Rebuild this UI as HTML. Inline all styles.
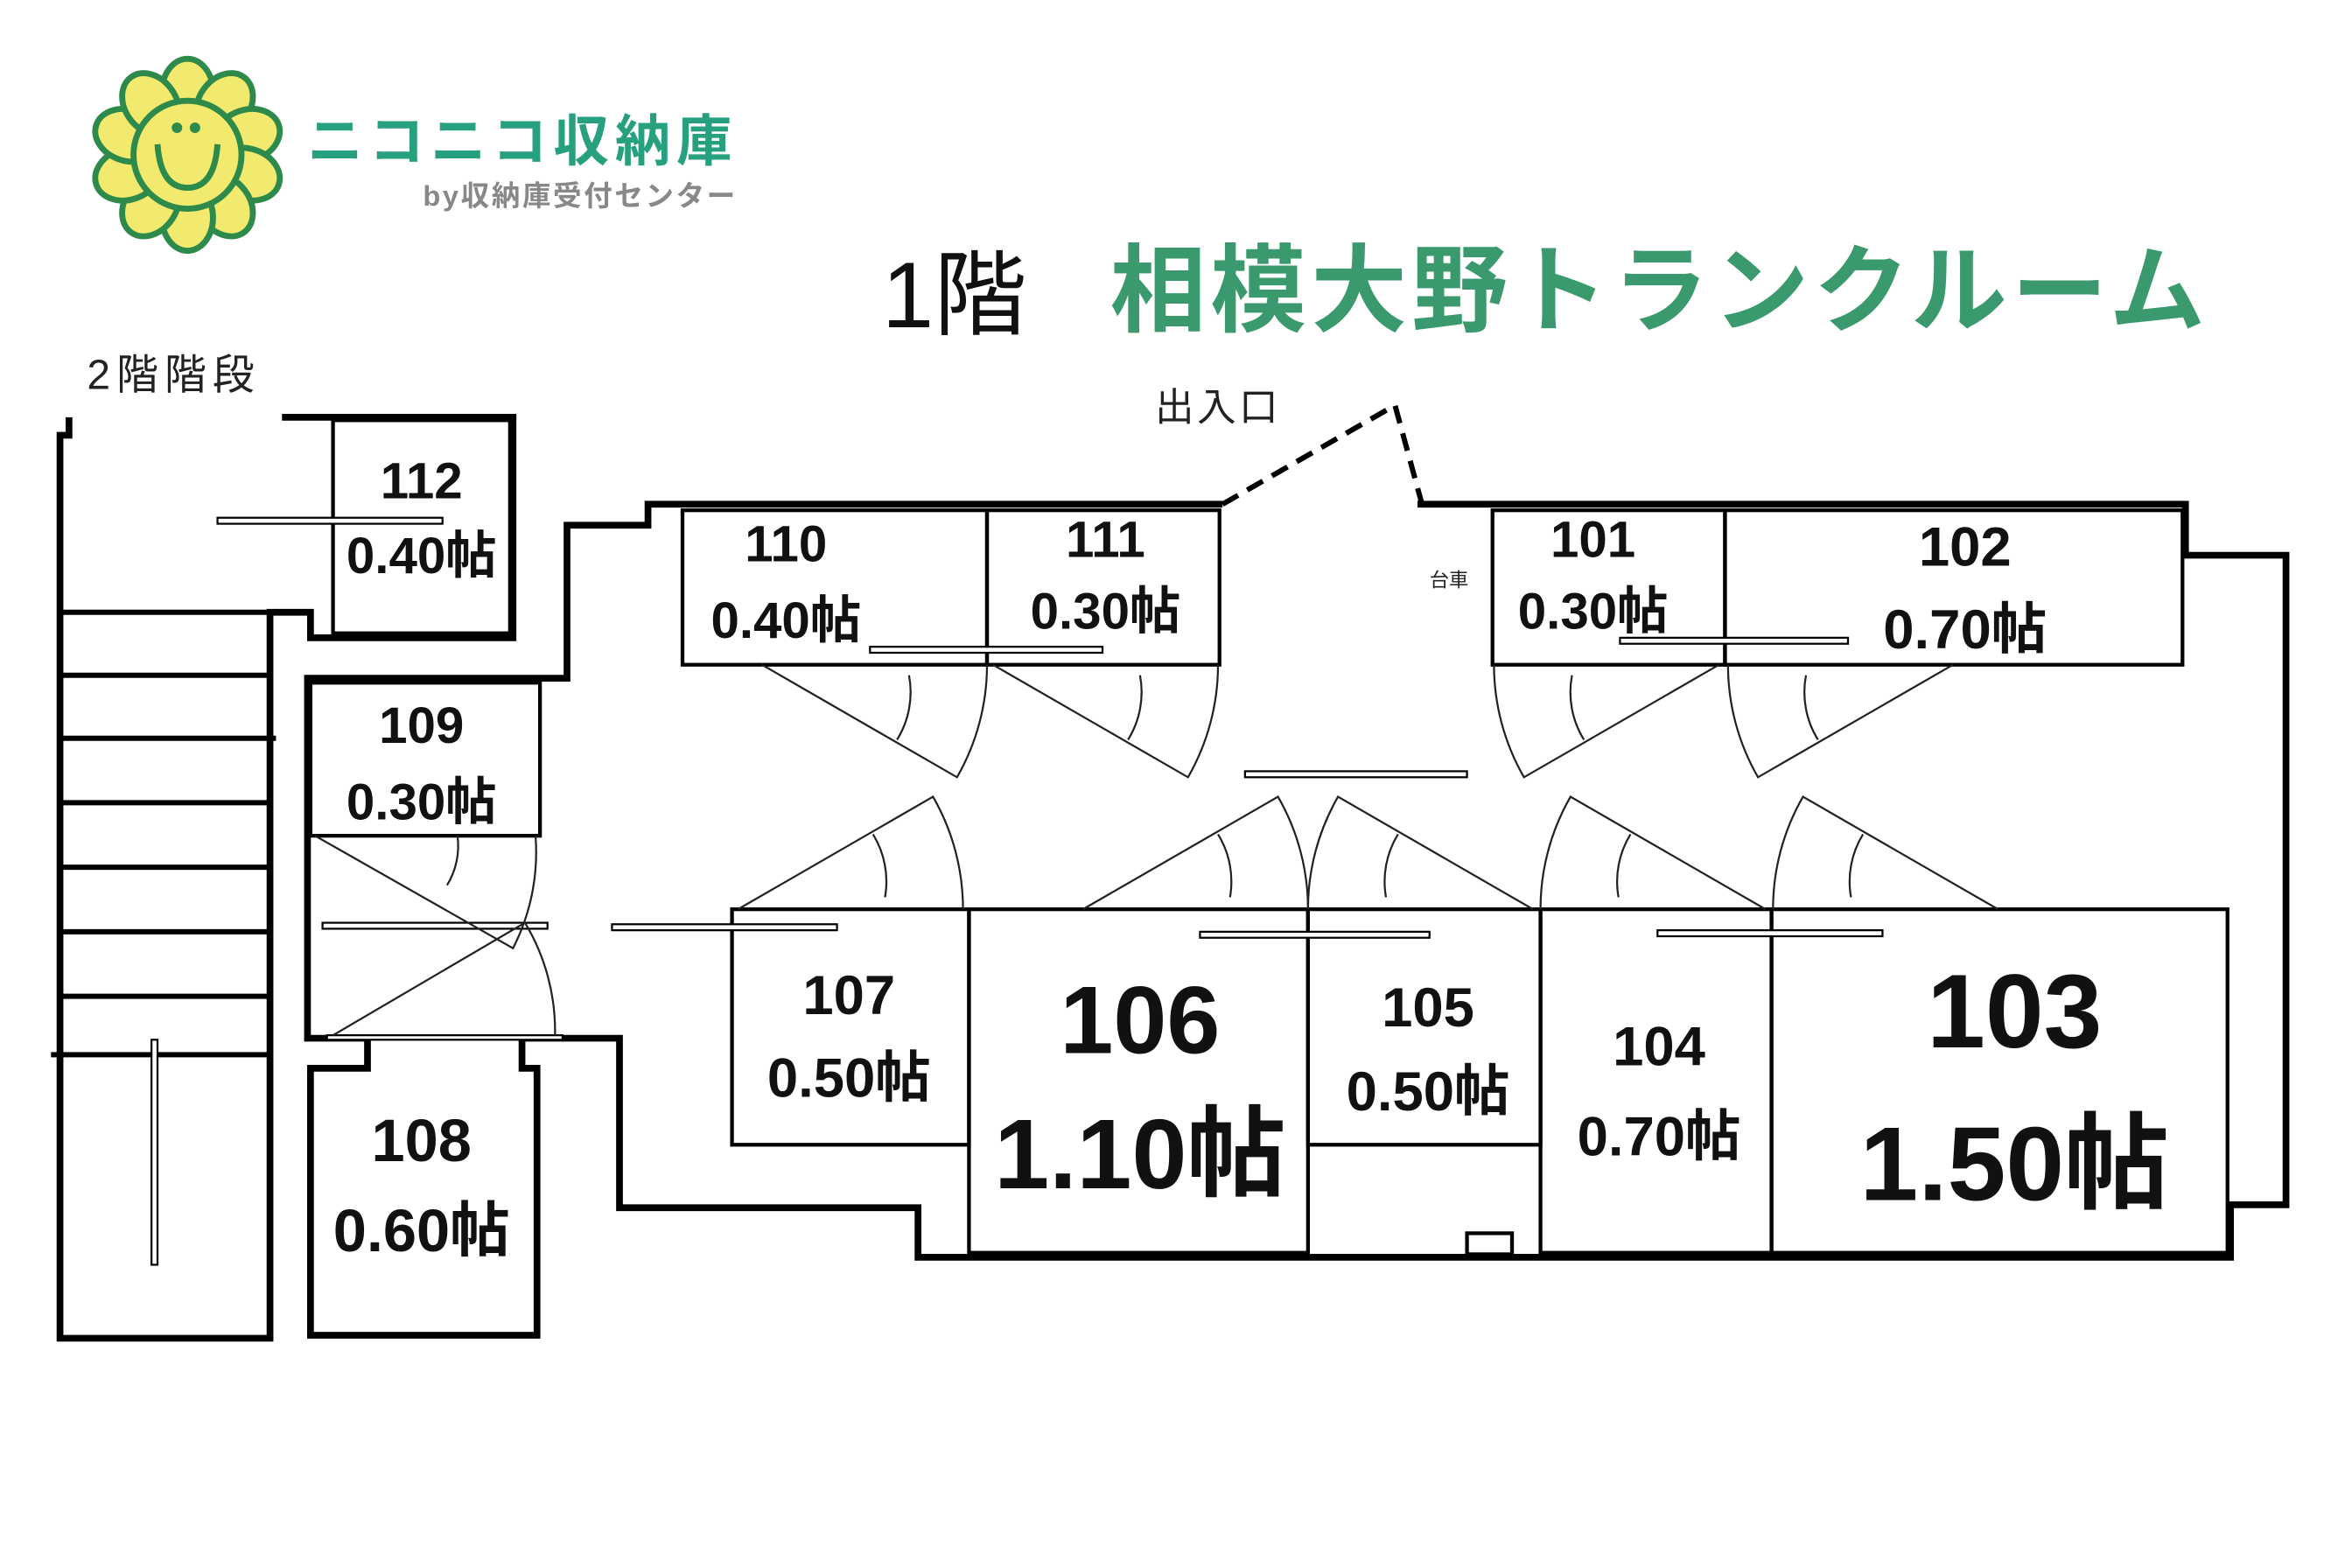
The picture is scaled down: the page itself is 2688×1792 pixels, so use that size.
<!DOCTYPE html>
<html><head><meta charset="utf-8"><style>
html,body{margin:0;padding:0;background:#fff;}
svg{display:block;}
text{font-family:"Liberation Sans","Noto Sans CJK JP",sans-serif;}
.b{font-weight:bold;fill:#111;}
</style></head><body>
<svg width="2688" height="1792" viewBox="0 0 1568 1045" xmlns="http://www.w3.org/2000/svg">
<rect width="1568" height="1045" fill="#fff"/>
<!-- logo -->
<g stroke="#2e8a4a" stroke-width="4" fill="#f1ea6e">
<g transform="translate(125,103)">
<ellipse cx="0" cy="-42" rx="17" ry="22" transform="rotate(0)"/>
<ellipse cx="0" cy="-42" rx="17" ry="22" transform="rotate(36)"/>
<ellipse cx="0" cy="-42" rx="17" ry="22" transform="rotate(72)"/>
<ellipse cx="0" cy="-42" rx="17" ry="22" transform="rotate(108)"/>
<ellipse cx="0" cy="-42" rx="17" ry="22" transform="rotate(144)"/>
<ellipse cx="0" cy="-42" rx="17" ry="22" transform="rotate(180)"/>
<ellipse cx="0" cy="-42" rx="17" ry="22" transform="rotate(216)"/>
<ellipse cx="0" cy="-42" rx="17" ry="22" transform="rotate(252)"/>
<ellipse cx="0" cy="-42" rx="17" ry="22" transform="rotate(288)"/>
<ellipse cx="0" cy="-42" rx="17" ry="22" transform="rotate(324)"/>
<circle r="36"/>
<circle cx="-7" cy="-18" r="3.5" fill="#2e8a4a" stroke="none"/>
<circle cx="5" cy="-18" r="3.5" fill="#2e8a4a" stroke="none"/>
<path d="M-20,-7 Q-18,22 0,22 Q18,22 20,-7" fill="none"/>
</g></g>
<text x="205" y="107" font-size="37" font-weight="bold" fill="#27a07f" letter-spacing="4">ニコニコ収納庫</text>
<text x="282" y="137" font-size="19" font-weight="bold" fill="#888" letter-spacing="1.5">by収納庫受付センター</text>
<!-- title -->
<text x="588" y="218" font-size="62" fill="#111">1階</text>
<text x="740" y="216" font-size="64" font-weight="bold" fill="#3a9a6e" letter-spacing="3">相模大野トランクルーム</text>
<text x="58" y="259" font-size="28" fill="#222" letter-spacing="4">2階階段</text>
<text x="770" y="280" font-size="26" fill="#222" letter-spacing="2">出入口</text>
<text x="953" y="391" font-size="13" fill="#222">台車</text>
<!-- thick walls -->
<g fill="none" stroke="#000" stroke-width="4.5" stroke-linejoin="miter">
<polyline points="46,278 46,290 40,290 40,892 180,892 180,408 207,408 207,425 342,425 342,278 188,278"/>
<polyline points="815,336 432,336 432,350 378,350 378,452 205,452 205,692 245,692 245,712 207,712 207,890 358,890 358,712 348,712 348,692 413,692 413,805 612,805 612,838 1487,838 1487,803 1524,803 1524,370 1457,370 1457,336 945,336"/>
</g>
<g stroke="#000" stroke-width="3.5">
<line x1="40" y1="408" x2="178" y2="408"/><line x1="40" y1="450" x2="178" y2="450"/>
<line x1="40" y1="492" x2="184" y2="492"/><line x1="40" y1="535" x2="178" y2="535"/>
<line x1="40" y1="578" x2="178" y2="578"/><line x1="40" y1="621" x2="178" y2="621"/>
<line x1="40" y1="664" x2="178" y2="664"/><line x1="34" y1="703" x2="178" y2="703"/>
</g>
<path d="M815,336 L930,270 L948,336" fill="none" stroke="#000" stroke-width="3.5" stroke-dasharray="12,7"/>
<!-- rooms thin double -->
<g fill="none" stroke="#000" stroke-width="2.5">
<rect x="222" y="280" width="118" height="142"/>
<rect x="455" y="340" width="203" height="103"/>
<rect x="658" y="340" width="155" height="103"/>
<rect x="995" y="340" width="155" height="103"/>
<rect x="1150" y="340" width="305" height="103"/>
<rect x="207" y="455" width="153" height="102"/>
<rect x="488" y="606" width="158" height="157"/>
<rect x="646" y="606" width="226" height="229"/>
<rect x="872" y="606" width="155" height="157"/>
<rect x="1027" y="606" width="154" height="229"/>
<rect x="1181" y="606" width="304" height="229"/>
<rect x="978" y="822" width="30" height="14"/>
</g>
<!-- sliding tracks -->
<g fill="#fff" stroke="#000" stroke-width="1.3">
<rect x="145" y="345" width="150" height="4"/>
<rect x="580" y="431" width="155" height="4"/>
<rect x="1080" y="425" width="152" height="4"/>
<rect x="830" y="514" width="148" height="4"/>
<rect x="215" y="615" width="150" height="4"/>
<rect x="408" y="616" width="150" height="4"/>
<rect x="800" y="621" width="153" height="4"/>
<rect x="1105" y="620" width="150" height="4"/>
<rect x="101" y="693" width="4" height="150"/>
<rect x="218" y="690" width="157" height="3"/>
</g>
<!-- door swings -->
<g fill="none" stroke="#222" stroke-width="1.3">
<path d="M508,443 L638,518 A150,150 0 0 0 658,443"/><path d="M598,493 A60,60 0 0 0 606,450"/>
<path d="M662,443 L792,518 A150,150 0 0 0 812,443"/><path d="M752,493 A60,60 0 0 0 760,450"/>
<path d="M1146,443 L1016,518 A150,150 0 0 1 996,443"/><path d="M1056,493 A60,60 0 0 1 1048,450"/>
<path d="M1302,443 L1172,518 A150,150 0 0 1 1152,443"/><path d="M1212,493 A60,60 0 0 1 1204,450"/>
<path d="M492,606 L622,531 A150,150 0 0 1 642,606"/><path d="M582,556 A60,60 0 0 1 590,598"/>
<path d="M722,606 L852,531 A150,150 0 0 1 872,606"/><path d="M812,556 A60,60 0 0 1 820,598"/>
<path d="M1022,606 L892,531 A150,150 0 0 0 872,606"/><path d="M932,556 A60,60 0 0 0 924,598"/>
<path d="M1177,606 L1047,531 A150,150 0 0 0 1027,606"/><path d="M1087,556 A60,60 0 0 0 1079,598"/>
<path d="M1332,606 L1202,531 A150,150 0 0 0 1182,606"/><path d="M1242,556 A60,60 0 0 0 1234,598"/>
<path d="M210,557 L342,632 A140,140 0 0 0 357,557"/><path d="M298,590 A50,50 0 0 0 305,557"/>
<path d="M222,690 L350,615 A140,140 0 0 1 370,690"/>
</g>
<!-- labels -->
<g class="b" text-anchor="middle">
<text x="281" y="332" font-size="34">112</text><text x="281" y="382" font-size="34">0.40帖</text>
<text x="524" y="374" font-size="34">110</text><text x="524" y="425" font-size="34">0.40帖</text>
<text x="737" y="371" font-size="34">111</text><text x="737" y="419" font-size="34">0.30帖</text>
<text x="1062" y="371" font-size="34">101</text><text x="1062" y="419" font-size="34">0.30帖</text>
<text x="1310" y="377" font-size="37">102</text><text x="1310" y="432" font-size="37">0.70帖</text>
<text x="281" y="495" font-size="34">109</text><text x="281" y="546" font-size="34">0.30帖</text>
<text x="566" y="676" font-size="37">107</text><text x="566" y="731" font-size="37">0.50帖</text>
<text x="760" y="702" font-size="64">106</text><text x="760" y="792" font-size="66">1.10帖</text>
<text x="952" y="684" font-size="37">105</text><text x="952" y="740" font-size="37">0.50帖</text>
<text x="1106" y="710" font-size="37">104</text><text x="1106" y="770" font-size="37">0.70帖</text>
<text x="1343" y="698" font-size="70">103</text><text x="1343" y="800" font-size="70">1.50帖</text>
<text x="281" y="774" font-size="40">108</text><text x="281" y="834" font-size="40">0.60帖</text>
</g>
</svg>
</body></html>
